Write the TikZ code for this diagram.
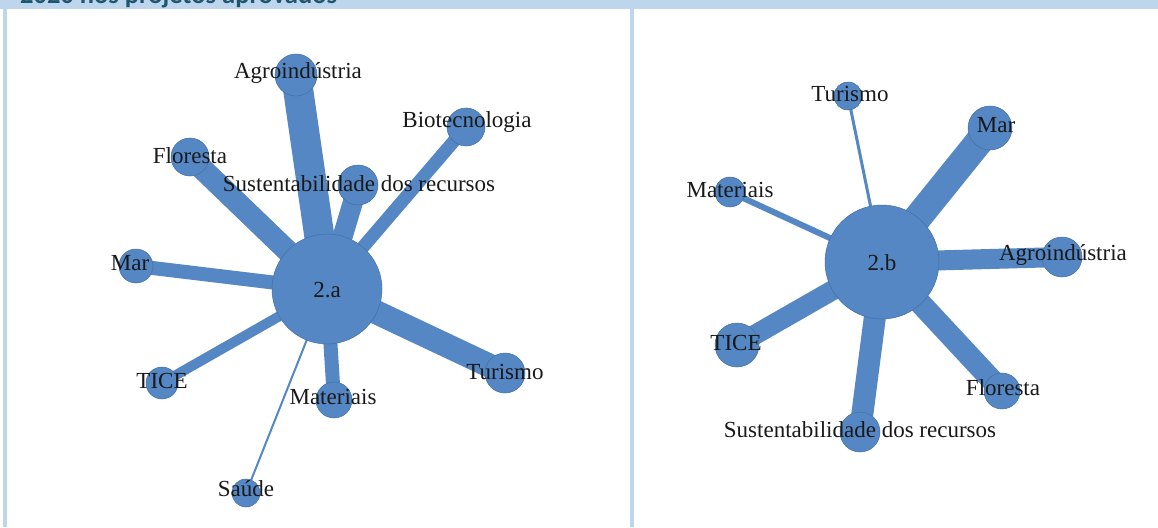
\documentclass[tikz,border=0pt]{standalone}
\usepackage{fontspec}
\setmainfont{Liberation Serif}
\newfontfamily\headfont{Carlito}
\usetikzlibrary{backgrounds}
\definecolor{nodeblue}{RGB}{84,135,196}
\definecolor{nodeedge}{RGB}{66,112,164}
\definecolor{framebl}{RGB}{189,214,238}
\definecolor{headtxt}{RGB}{31,86,110}
\begin{document}
\begin{tikzpicture}[x=1pt,y=-1pt,
  bubble/.style={circle,fill=nodeblue,draw=nodeedge,line width=0.5pt,inner sep=0pt,minimum size=#1},
  lbl/.style={inner sep=0pt,font=\fontsize{23}{25}\selectfont,text=black!90},
  spoke/.style={draw=nodeblue,line width=#1,line cap=butt}]
\useasboundingbox (0,0) rectangle (1158,527);

% ---- panel 2.a ----
\node[bubble=110pt] (aHub) at (327,289) {};
\node[bubble=42pt] (aAgro) at (296,75) {};
\node[bubble=38pt] (aFlor) at (190,157) {};
\node[bubble=40pt] (aSust) at (358,185) {};
\node[bubble=38pt] (aBio) at (466,127) {};
\node[bubble=34pt] (aMar) at (136,266) {};
\node[bubble=32pt] (aTice) at (162,383) {};
\node[bubble=28pt] (aSaude) at (246,493) {};
\node[bubble=36pt] (aMat) at (334,400) {};
\node[bubble=40pt] (aTur) at (505,373) {};

% ---- panel 2.b ----
\node[bubble=114pt] (bHub) at (882,262) {};
\node[bubble=28pt] (bTur) at (848,96) {};
\node[bubble=44pt] (bMar) at (990,128) {};
\node[bubble=30pt] (bMat) at (730,192) {};
\node[bubble=40pt] (bAgro) at (1062,257) {};
\node[bubble=44pt] (bTice) at (737,345) {};
\node[bubble=36pt] (bFlor) at (1002,391) {};
\node[bubble=40pt] (bSust) at (860,432) {};

\begin{scope}[on background layer]
  % page, header bar and panel rules
  \fill[white] (0,0) rectangle (1158,527);
  \fill[framebl] (0,0) rectangle (1158,9);
  \fill[framebl] (3,9) rectangle (7,527);
  \fill[framebl] (630,9) rectangle (634,527);
  % weighted links, panel 2.a
  \draw[spoke=30pt] (aHub.center) -- (aAgro.center);
  \draw[spoke=22pt] (aHub.center) -- (aFlor.center);
  \draw[spoke=20pt] (aHub.center) -- (aSust.center);
  \draw[spoke=13pt] (aHub.center) -- (aBio.center);
  \draw[spoke=14pt] (aHub.center) -- (aMar.center);
  \draw[spoke=10pt] (aHub.center) -- (aTice.center);
  \draw[spoke=2pt] (aHub.center) -- (aSaude.center);
  \draw[spoke=14pt] (aHub.center) -- (aMat.center);
  \draw[spoke=24pt] (aHub.center) -- (aTur.center);
  % weighted links, panel 2.b
  \draw[spoke=3pt] (bHub.center) -- (bTur.center);
  \draw[spoke=28pt] (bHub.center) -- (bMar.center);
  \draw[spoke=6pt] (bHub.center) -- (bMat.center);
  \draw[spoke=20pt] (bHub.center) -- (bAgro.center);
  \draw[spoke=20pt] (bHub.center) -- (bTice.center);
  \draw[spoke=22pt] (bHub.center) -- (bFlor.center);
  \draw[spoke=22pt] (bHub.center) -- (bSust.center);
\end{scope}

% header title, cut by the top edge of the page
\begin{scope}
  \clip (0,0) rectangle (1158,9);
  \node[anchor=base west,inner sep=0pt,font=\headfont\bfseries\fontsize{26.5}{28}\selectfont,text=headtxt] (title) at (20,4) {2020 nos projetos aprovados};
\end{scope}

% labels
\node[lbl] (aHubT) at (327,290) {2.a};
\node[lbl] (aAgroT) at (298,73) {Agroindústria};
\node[lbl] (aFlorT) at (190,156) {Floresta};
\node[lbl] (aSustT) at (359,184) {Sustentabilidade dos recursos};
\node[lbl] (aBioT) at (467,122) {Biotecnologia};
\node[lbl] (aMarT) at (130,263) {Mar};
\node[lbl] (aTiceT) at (162,381) {TICE};
\node[lbl] (aSaudeT) at (246,489) {Saúde};
\node[lbl] (aMatT) at (333,397) {Materiais};
\node[lbl] (aTurT) at (505,372) {Turismo};

\node[lbl] (bHubT) at (882,263) {2.b};
\node[lbl] (bTurT) at (850,94) {Turismo};
\node[lbl] (bMarT) at (996,125) {Mar};
\node[lbl] (bMatT) at (730,190) {Materiais};
\node[lbl] (bAgroT) at (1063,255) {Agroindústria};
\node[lbl] (bTiceT) at (736,343) {TICE};
\node[lbl] (bFlorT) at (1003,388) {Floresta};
\node[lbl] (bSustT) at (860,430) {Sustentabilidade dos recursos};
\end{tikzpicture}
\end{document}
